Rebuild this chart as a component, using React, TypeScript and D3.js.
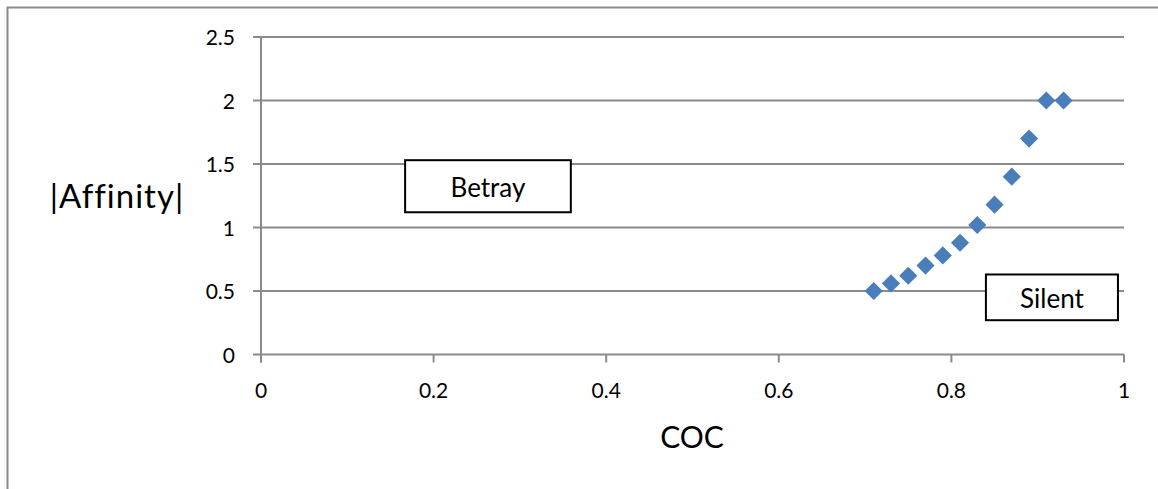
import React from "react";
import * as d3 from "d3";

const cocValues = [0.71, 0.73, 0.75, 0.77, 0.79, 0.81, 0.83, 0.85, 0.87, 0.89, 0.91, 0.93];
const affinityValues = [0.5, 0.56, 0.62, 0.7, 0.78, 0.88, 1.02, 1.18, 1.4, 1.7, 2, 2];
const xTicks = [0, 0.2, 0.4, 0.6, 0.8, 1];
const yTicks = [0, 0.5, 1, 1.5, 2, 2.5];
const xTitle = "COC";
const yTitle = "|Affinity|";
const annotations = [
  { label: "Betray", x0: 0.167, x1: 0.359, y0: 1.53, y1: 1.12 },
  { label: "Silent", x0: 0.84, x1: 0.993, y0: 0.63, y1: 0.27 },
];

const W = 1158;
const H = 489;
const FONT = "Lato, 'Open Sans', sans-serif";

export default function App() {
  const x = d3.scaleLinear().domain([0, 1]).range([261, 1124]);
  const y = d3.scaleLinear().domain([0, 2.5]).range([354.5, 37]);
  const diamond = d3.symbol().type(d3.symbolSquare).size(165)();
  const grid = "#8a8a8a";

  return (
    <svg
      width={W}
      height={H}
      style={{ position: "absolute", left: 0, top: 0, background: "#fff", fontVariantLigatures: "none" }}
      fontFamily={FONT}
    >
      {/* outer chart border */}
      <rect x={7.5} y={7.5} width={W + 20} height={H + 20} fill="none" stroke="#8a8a8a" strokeWidth={2} />

      {/* gridlines & y ticks */}
      {yTicks.map((t) => (
        <line key={"g" + t} x1={253} x2={x(1)} y1={y(t)} y2={y(t)} stroke={grid} strokeWidth={2} />
      ))}
      {/* y axis */}
      <line x1={x(0)} x2={x(0)} y1={y(2.5)} y2={y(0) + 8} stroke={grid} strokeWidth={2} />
      {/* x ticks */}
      {xTicks.map((t) => (
        <line key={"xt" + t} x1={x(t)} x2={x(t)} y1={y(0)} y2={y(0) + 8} stroke={grid} strokeWidth={2} />
      ))}

      {/* y tick labels */}
      {yTicks.map((t) => (
        <text key={"yl" + t} x={235} y={y(t) + 8} textAnchor="end" fontSize={21} fill="#000">
          {String(t)}
        </text>
      ))}
      {/* x tick labels */}
      {xTicks.map((t) => (
        <text key={"xl" + t} x={x(t)} y={398} textAnchor="middle" fontSize={21} fill="#000">
          {String(t)}
        </text>
      ))}

      {/* axis titles */}
      <text x={117} y={208} textAnchor="middle" fontSize={33} letterSpacing={1} fill="#000">
        {yTitle}
      </text>
      <text x={692} y={448} textAnchor="middle" fontSize={30} fill="#000">
        {xTitle}
      </text>

      {/* annotation boxes */}
      {annotations.map((a) => (
        <g key={a.label}>
          <rect
            x={x(a.x0)}
            y={y(a.y0)}
            width={x(a.x1) - x(a.x0)}
            height={y(a.y1) - y(a.y0)}
            fill="#fff"
            stroke="#000"
            strokeWidth={2}
          />
          <text
            x={(x(a.x0) + x(a.x1)) / 2}
            y={(y(a.y0) + y(a.y1)) / 2 + 11}
            textAnchor="middle"
            fontSize={26}
            fill="#000"
          >
            {a.label}
          </text>
        </g>
      ))}

      {/* points */}
      {cocValues.map((c, i) => (
        <path
          key={"p" + i}
          d={diamond as string}
          transform={`translate(${x(c)},${y(affinityValues[i])}) rotate(45)`}
          fill="#4a7ebb"
        />
      ))}
    </svg>
  );
}
